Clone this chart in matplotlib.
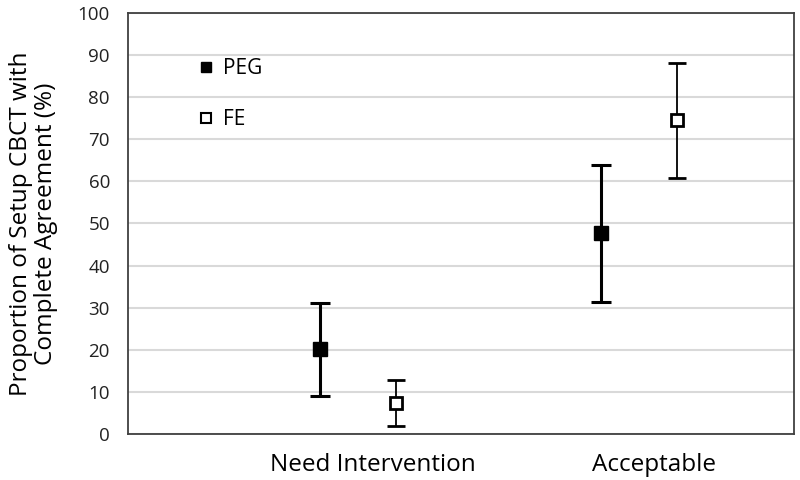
import matplotlib
matplotlib.use('Agg')
import matplotlib.pyplot as plt
import numpy as np

plt.rcParams['font.family'] = ['Open Sans', 'DejaVu Sans']

categories = ['Need Intervention', 'Acceptable']
peg_mean = [20.2, 47.7]
peg_low = [9.1, 31.4]
peg_high = [31.2, 64.0]
fe_mean = [7.4, 74.5]
fe_low = [1.8, 60.8]
fe_high = [12.8, 88.2]
yticks = [0, 10, 20, 30, 40, 50, 60, 70, 80, 90, 100]

cat_x = np.array([0.368, 0.790])      # category centres, axis fraction
peg_x = cat_x - 0.08
fe_x = cat_x + 0.035

fig = plt.figure(figsize=(8, 4.8), dpi=100)
ax = fig.add_axes([0.16, 0.096, 0.8325, 0.877])

peg_mean = np.array(peg_mean)
fe_mean = np.array(fe_mean)
peg_err = [peg_mean - np.array(peg_low), np.array(peg_high) - peg_mean]
fe_err = [fe_mean - np.array(fe_low), np.array(fe_high) - fe_mean]

ax.errorbar(peg_x, peg_mean, yerr=peg_err, fmt='s', color='black', ms=9.5,
            elinewidth=2.2, capsize=7.5, capthick=2.2, zorder=3)
ax.errorbar(fe_x, fe_mean, yerr=fe_err, fmt='s', color='black', mfc='white',
            mec='black', mew=2, ms=8.5, elinewidth=1.3, capsize=6.5,
            capthick=1.3, zorder=3)

# legend handles
h1, = ax.plot([], [], 's', color='black', ms=7.5, label='PEG')
h2, = ax.plot([], [], 's', color='black', mfc='white', mew=1.5, ms=7, label='FE')
ax.legend(handles=[h1, h2], loc='upper left', bbox_to_anchor=(0.104, 0.893),
          frameon=False, fontsize=15, labelspacing=1.45, handlelength=0.8,
          handletextpad=0.45, borderpad=0, borderaxespad=0)

ax.set_xlim(0, 1)
ax.set_ylim(0, 100)
ax.set_yticks(yticks)
ax.set_xticks(cat_x)
ax.set_xticklabels(categories, fontsize=17.5)
ax.tick_params(axis='both', length=0)
ax.tick_params(axis='y', labelsize=13.5, pad=13, colors='#222222')
ax.tick_params(axis='x', pad=14)
ax.yaxis.grid(True, color='#d9d9d9', linewidth=1.5)
ax.set_axisbelow(True)
for s in ax.spines.values():
    s.set_color('#404040')
    s.set_linewidth(1.3)

ax.set_ylabel('Proportion of Setup CBCT with\nComplete Agreement (%)', fontsize=17.5,
              labelpad=14, linespacing=1.05)

fig.savefig('out.png', dpi=100)
